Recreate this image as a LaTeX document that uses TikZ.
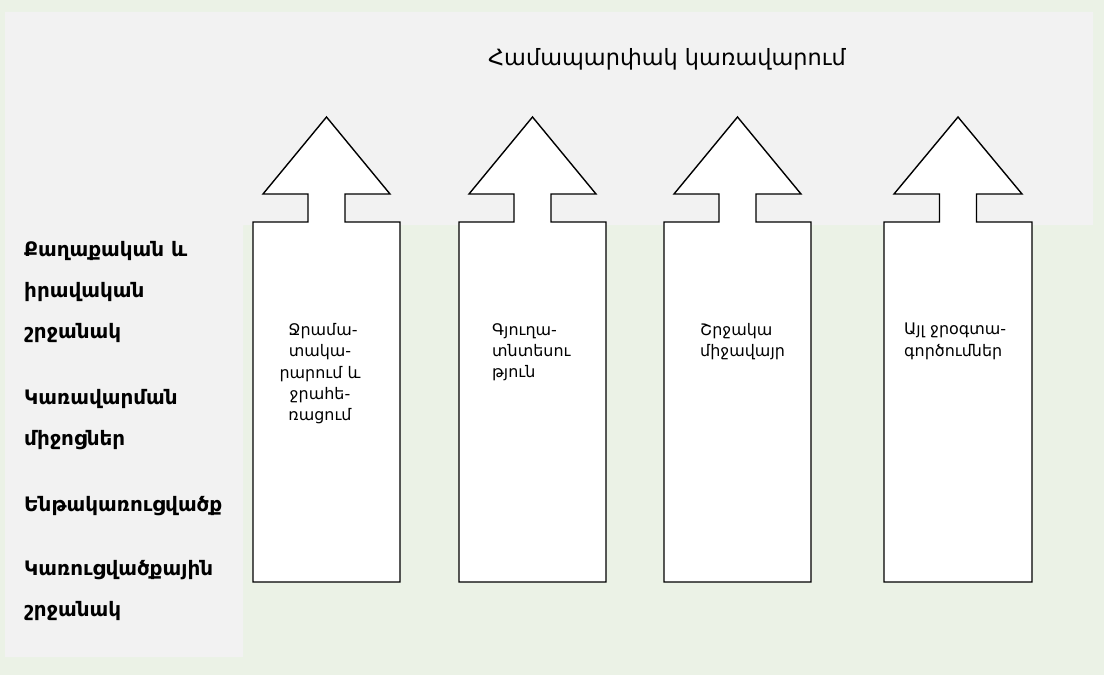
\documentclass[tikz,border=0pt]{standalone}
\usepackage{fontspec}
\newfontfamily\arm{DejaVu Sans}
\newfontfamily\armb{DejaVu Sans Bold}
\definecolor{bggreen}{HTML}{EBF2E6}
\definecolor{panelgray}{HTML}{F2F2F2}
\tikzset{
  arrowbox/.style={draw=black, fill=white, line width=1.4bp, line join=miter},
  boxtext/.style={font=\arm\fontsize{16}{21.5}\selectfont, inner sep=0pt},
  sidelabel/.style={font=\armb\fontsize{20}{41}\selectfont, inner sep=0pt, anchor=west, align=left},
}
\newcommand{\uparrowbox}[2]{% left x, right x
  \pgfmathsetmacro{\cx}{(#1+#2)/2}
  \draw[arrowbox] (#1,582) -- (#1,222) -- (\cx-18.5,222) -- (\cx-18.5,194) -- (#1+10,194)
    -- (\cx,117) -- (#2-10,194) -- (\cx+18.5,194) -- (\cx+18.5,222) -- (#2,222) -- (#2,582) -- cycle;
}
\begin{document}
\begin{tikzpicture}[x=1bp,y=-1bp]
\useasboundingbox (0,0) rectangle (1104,675);
\fill[bggreen] (0,0) rectangle (1104,675);
\fill[panelgray] (5,12) -- (1093,12) -- (1093,225) -- (243,225) -- (243,657) -- (5,657) -- cycle;
\node[font=\arm\fontsize{22.5}{26}\selectfont, inner sep=0pt] (title) at (667,59) {Համապարփակ կառավարում};
\uparrowbox{253}{400}
\uparrowbox{459}{606}
\uparrowbox{664}{811}
\uparrowbox{884}{1032}
\node[boxtext, align=center, anchor=north] (t1) at (320,323) {\hspace{6bp}Ջրամա-\\տակա-\\րարում և\\ջրահե-\\ռացում};
\node[boxtext, align=left, anchor=north west] (t2) at (492,323) {Գյուղա-\\տնտեսու\\թյուն};
\node[boxtext, align=left, anchor=north west] (t3) at (700,323) {Շրջակա\\միջավայր};
\node[boxtext, align=left, anchor=north west] (t4) at (904,323) {Այլ ջրօգտա-\\գործումներ};
\node[sidelabel, anchor=north west] (l1) at (24,241) {Քաղաքական և\\իրավական\\շրջանակ};
\node[sidelabel, anchor=north west] (l2) at (24,389) {Կառավարման\\միջոցներ};
\node[sidelabel, anchor=north west] (l3) at (24,496) {Ենթակառուցվածք};
\node[sidelabel, anchor=north west] (l4) at (24,560) {Կառուցվածքային\\շրջանակ};
\end{tikzpicture}
\end{document}
